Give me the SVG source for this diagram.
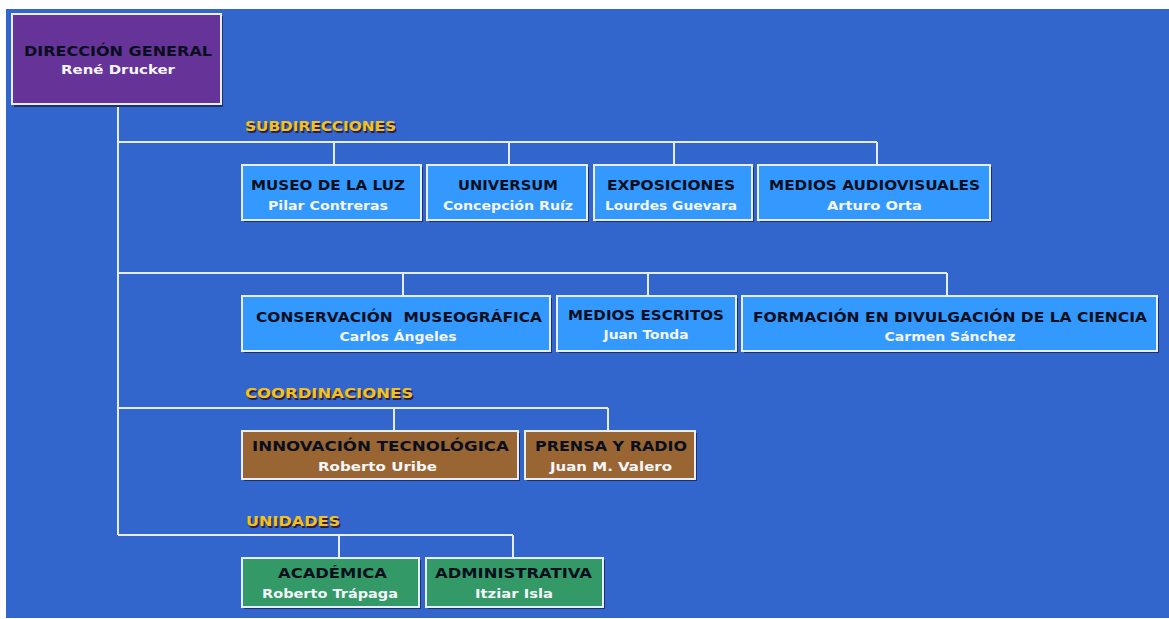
<svg xmlns="http://www.w3.org/2000/svg" width="1169" height="619" viewBox="0 0 1169 619">
<style>
.bg{fill:#3366cc}
.conn line,.conn path{stroke:#e4ecf8;stroke-width:2;fill:none}
.shadow{fill:#1c2f6e}
.box{stroke:#e8eef8;stroke-width:2}
.blue{fill:#3399ff}
.brown{fill:#996633}
.green{fill:#339966}
.purple{fill:#663399}
.t{font-family:"DejaVu Sans","Open Sans",sans-serif;font-weight:bold;font-size:13.5px;fill:#0a0f1e;text-anchor:middle}
.n{font-family:"DejaVu Sans","Open Sans",sans-serif;font-weight:bold;font-size:13px;fill:#f4f6fa;text-anchor:middle}
.h{font-family:"DejaVu Sans","Open Sans",sans-serif;font-weight:bold;font-size:14px;fill:#f2c21a}
.hs{font-family:"DejaVu Sans","Open Sans",sans-serif;font-weight:bold;font-size:14px;fill:#2a2050}
</style>
<rect x="0" y="0" width="1169" height="619" fill="#ffffff"/>
<rect class="bg" x="6" y="9" width="1163" height="609"/>

<g id="connectors" class="conn">
<path d="M118 105 V535"/>
<path d="M118 142 H877 M334 142 V165 M509 142 V165 M674 142 V165 M877 142 V165"/>
<path d="M118 273 H947 M403 273 V296 M648 273 V296 M947 273 V296"/>
<path d="M118 408 H608 M394 408 V431 M608 408 V431"/>
<path d="M118 535 H513 M339 535 V558 M513 535 V558"/>
</g>

<g id="headings">
<text class="hs" x="246.5" y="132.5" textLength="151" lengthAdjust="spacingAndGlyphs">SUBDIRECCIONES</text>
<text class="h" x="245" y="131" textLength="151" lengthAdjust="spacingAndGlyphs">SUBDIRECCIONES</text>
<text class="hs" x="246.5" y="399.5" textLength="168" lengthAdjust="spacingAndGlyphs">COORDINACIONES</text>
<text class="h" x="245" y="398" textLength="168" lengthAdjust="spacingAndGlyphs">COORDINACIONES</text>
<text class="hs" x="247.5" y="527.5" textLength="94" lengthAdjust="spacingAndGlyphs">UNIDADES</text>
<text class="h" x="246" y="526" textLength="94" lengthAdjust="spacingAndGlyphs">UNIDADES</text>
</g>

<g id="direccion-general">
<rect class="shadow" x="14" y="16" width="209" height="91"/>
<rect class="box purple" x="12" y="14" width="209" height="90"/>
<text class="t" x="118" y="56" textLength="188" lengthAdjust="spacingAndGlyphs">DIRECCIÓN GENERAL</text>
<text class="n" x="118" y="74" textLength="114" lengthAdjust="spacingAndGlyphs">René Drucker</text>
</g>

<g id="museo-de-la-luz">
<rect class="shadow" x="244" y="167" width="179" height="55"/>
<rect class="box blue" x="242" y="165" width="179" height="55"/>
<text class="t" x="328" y="190" textLength="154" lengthAdjust="spacingAndGlyphs">MUSEO DE LA LUZ</text>
<text class="n" x="328" y="210" textLength="120" lengthAdjust="spacingAndGlyphs">Pilar Contreras</text>
</g>

<g id="universum">
<rect class="shadow" x="429" y="167" width="160" height="55"/>
<rect class="box blue" x="427" y="165" width="160" height="55"/>
<text class="t" x="508" y="190" textLength="100" lengthAdjust="spacingAndGlyphs">UNIVERSUM</text>
<text class="n" x="508" y="210" textLength="130" lengthAdjust="spacingAndGlyphs">Concepción Ruíz</text>
</g>

<g id="exposiciones">
<rect class="shadow" x="596" y="167" width="158" height="55"/>
<rect class="box blue" x="594" y="165" width="158" height="55"/>
<text class="t" x="671" y="190" textLength="128" lengthAdjust="spacingAndGlyphs">EXPOSICIONES</text>
<text class="n" x="671" y="210" textLength="132" lengthAdjust="spacingAndGlyphs">Lourdes Guevara</text>
</g>

<g id="medios-audiovisuales">
<rect class="shadow" x="760" y="167" width="232" height="55"/>
<rect class="box blue" x="758" y="165" width="232" height="55"/>
<text class="t" x="874.5" y="190" textLength="211" lengthAdjust="spacingAndGlyphs">MEDIOS AUDIOVISUALES</text>
<text class="n" x="874.5" y="210" textLength="95" lengthAdjust="spacingAndGlyphs">Arturo Orta</text>
</g>

<g id="conservacion-museografica">
<rect class="shadow" x="244" y="298" width="308" height="55"/>
<rect class="box blue" x="242" y="296" width="308" height="55"/>
<text class="t" x="399" y="322" textLength="286" lengthAdjust="spacingAndGlyphs" xml:space="preserve">CONSERVACIÓN  MUSEOGRÁFICA</text>
<text class="n" x="398" y="341" textLength="117" lengthAdjust="spacingAndGlyphs">Carlos Ángeles</text>
</g>

<g id="medios-escritos">
<rect class="shadow" x="559" y="298" width="179" height="55"/>
<rect class="box blue" x="557" y="296" width="179" height="55"/>
<text class="t" x="646" y="320" textLength="156" lengthAdjust="spacingAndGlyphs">MEDIOS ESCRITOS</text>
<text class="n" x="646" y="339" textLength="85" lengthAdjust="spacingAndGlyphs">Juan Tonda</text>
</g>

<g id="formacion-divulgacion">
<rect class="shadow" x="744" y="298" width="415" height="55"/>
<rect class="box blue" x="742" y="296" width="415" height="55"/>
<text class="t" x="950" y="322" textLength="394" lengthAdjust="spacingAndGlyphs">FORMACIÓN EN DIVULGACIÓN DE LA CIENCIA</text>
<text class="n" x="950" y="341" textLength="131" lengthAdjust="spacingAndGlyphs">Carmen Sánchez</text>
</g>

<g id="innovacion-tecnologica">
<rect class="shadow" x="244" y="433" width="276" height="48"/>
<rect class="box brown" x="242" y="431" width="276" height="48"/>
<text class="t" x="380.5" y="451" textLength="257" lengthAdjust="spacingAndGlyphs">INNOVACIÓN TECNOLÓGICA</text>
<text class="n" x="377.5" y="471" textLength="119" lengthAdjust="spacingAndGlyphs">Roberto Uribe</text>
</g>

<g id="prensa-y-radio">
<rect class="shadow" x="527" y="433" width="170" height="48"/>
<rect class="box brown" x="525" y="431" width="170" height="48"/>
<text class="t" x="611" y="451" textLength="152" lengthAdjust="spacingAndGlyphs">PRENSA Y RADIO</text>
<text class="n" x="611" y="471" textLength="122" lengthAdjust="spacingAndGlyphs">Juan M. Valero</text>
</g>

<g id="academica">
<rect class="shadow" x="244" y="560" width="177" height="49"/>
<rect class="box green" x="242" y="558" width="177" height="49"/>
<text class="t" x="332.5" y="578" textLength="109" lengthAdjust="spacingAndGlyphs">ACADÉMICA</text>
<text class="n" x="330" y="598" textLength="136" lengthAdjust="spacingAndGlyphs">Roberto Trápaga</text>
</g>

<g id="administrativa">
<rect class="shadow" x="428" y="560" width="177" height="49"/>
<rect class="box green" x="426" y="558" width="177" height="49"/>
<text class="t" x="513.5" y="578" textLength="157" lengthAdjust="spacingAndGlyphs">ADMINISTRATIVA</text>
<text class="n" x="514" y="598" textLength="78" lengthAdjust="spacingAndGlyphs">Itziar Isla</text>
</g>
</svg>
